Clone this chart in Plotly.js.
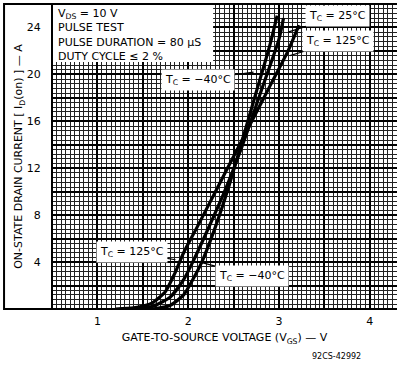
<!DOCTYPE html>
<html><head><meta charset="utf-8">
<script src="https://cdn.plot.ly/plotly-3.0.1.min.js"></script>
<style>html,body{margin:0;padding:0;background:#fff}#chart{width:397px;height:368px}</style>
</head><body><div id="chart"></div>
<script>
// Transfer characteristics, I_D(on) vs V_GS at three case temperatures
const vgsM40 = [1.60, 1.80, 1.95, 2.05, 2.15, 2.30, 2.45, 2.60, 2.75, 2.90, 2.98];
const idM40  = [0.0, 0.3, 1.2, 2.5, 4.0, 7.0, 10.5, 14.5, 18.5, 22.5, 25.0];
const vgs25  = [1.40, 1.60, 1.80, 1.95, 2.05, 2.20, 2.40, 2.60, 2.80, 3.00, 3.05];
const id25   = [0.0, 0.2, 1.0, 2.5, 4.0, 6.5, 10.0, 14.0, 18.5, 23.0, 24.8];
const vgs125 = [1.20, 1.40, 1.60, 1.75, 1.85, 1.95, 2.10, 2.30, 2.50, 2.70, 2.90, 3.10, 3.22];
const id125  = [0.0, 0.1, 0.5, 1.5, 3.0, 4.8, 7.0, 10.0, 13.0, 16.0, 19.0, 22.0, 24.2];

const xTickVals = [0.5, 1, 1.5, 2, 2.5, 3, 3.5, 4];
const xTickText = ['', '1', '', '2', '', '3', '', '4'];
const yTickVals = [2, 4, 6, 8, 10, 12, 14, 16, 18, 20, 22, 24];
const yTickText = ['', '4', '', '8', '', '12', '', '16', '', '20', '', '24'];

const F = 'DejaVu Sans, Arial, sans-serif';
const line = {color: '#000', width: 3.2, shape: 'spline', smoothing: 0.6};
const traces = [
  {x: vgsM40, y: idM40, mode: 'lines', line: line, name: 'TC=-40°C'},
  {x: vgs25, y: id25, mode: 'lines', line: line, name: 'TC=25°C'},
  {x: vgs125, y: id125, mode: 'lines', line: line, name: 'TC=125°C'}
];

// label box centred at (bx, by), leader line to the curve point (x, y)
function lab(text, x, y, bx, by) {
  return {text: text, x: x, y: y, xref: 'x', yref: 'y', ax: bx, ay: by, axref: 'x', ayref: 'y',
    showarrow: true, arrowhead: 0, arrowwidth: 1.2, arrowcolor: '#000', standoff: 0,
    bgcolor: '#fff', borderpad: 3, font: {family: F, size: 11, color: '#000'},
    xanchor: 'center', yanchor: 'middle'};
}

const layout = {
  width: 397, height: 368,
  margin: {l: 52, r: 0, t: 4, b: 59},
  paper_bgcolor: '#fff', plot_bgcolor: '#fff',
  showlegend: false,
  font: {family: F, color: '#000', size: 11},
  xaxis: {
    range: [0.5, 4.3], tickmode: 'array', tickvals: xTickVals, ticktext: xTickText,
    showgrid: true, gridcolor: '#000', gridwidth: 2, zeroline: false,
    ticks: 'outside', ticklen: 2, tickcolor: '#fff',
    tickfont: {family: F, size: 11, color: '#000'},
    minor: {dtick: 0.05, tick0: 0.5, showgrid: true, gridcolor: '#222', gridwidth: 1},
    showline: false,
    title: {text: 'GATE-TO-SOURCE VOLTAGE (V<sub>GS</sub>) — V', font: {family: F, size: 11, color: '#000'}, standoff: 6}
  },
  yaxis: {
    range: [0, 26], tickmode: 'array', tickvals: yTickVals, ticktext: yTickText,
    showgrid: true, gridcolor: '#000', gridwidth: 2, zeroline: false,
    ticks: 'outside', ticklen: 8, tickcolor: '#fff',
    tickfont: {family: F, size: 11, color: '#000'},
    minor: {dtick: 0.4, tick0: 0, showgrid: true, gridcolor: '#222', gridwidth: 1},
    showline: false,
    title: {text: 'ON-STATE DRAIN CURRENT [ I<sub>D</sub>(on) ] — A', font: {family: F, size: 11, color: '#000'}, standoff: 1}
  },
  shapes: [
    {type: 'rect', xref: 'paper', yref: 'paper', x0: 0, x1: 0.467, y0: 0.81, y1: 1,
     fillcolor: '#fff', line: {width: 0}, layer: 'above'},
    {type: 'rect', xref: 'paper', yref: 'paper', x0: -0.139, x1: 1.01, y0: 0, y1: 1,
     fillcolor: 'rgba(0,0,0,0)', line: {color: '#000', width: 2}, layer: 'above'},
    {type: 'line', xref: 'paper', yref: 'paper', x0: 0, x1: 0, y0: 0, y1: 1, line: {color: '#000', width: 2}}
  ],
  annotations: [
    {text: 'V<sub>DS</sub> = 10 V<br>PULSE TEST<br>PULSE DURATION = 80 μS<br>DUTY CYCLE ≤ 2 %',
     xref: 'paper', yref: 'paper', x: 0.012, y: 0.998, xanchor: 'left', yanchor: 'top', align: 'left',
     showarrow: false, font: {family: F, size: 11, color: '#000'}},
    lab('T<sub>C</sub> = 25°C', 3.10, 23.6, 3.65, 24.98),
    lab('T<sub>C</sub> = 125°C', 3.12, 21.6, 3.65, 22.85),
    lab('T<sub>C</sub> = −40°C', 2.72, 20.2, 2.11, 19.52),
    lab('T<sub>C</sub> = 125°C', 1.86, 4.2, 1.38, 4.86),
    lab('T<sub>C</sub> = −40°C', 2.13, 4.0, 2.70, 2.81),
    {text: '92CS-42992', xref: 'paper', yref: 'paper', x: 0.826, y: -0.157, xanchor: 'center', yanchor: 'middle',
     showarrow: false, font: {family: F, size: 8, color: '#000'}}
  ]
};
Plotly.newPlot('chart', traces, layout, {staticPlot: true, displayModeBar: false});
</script></body></html>
